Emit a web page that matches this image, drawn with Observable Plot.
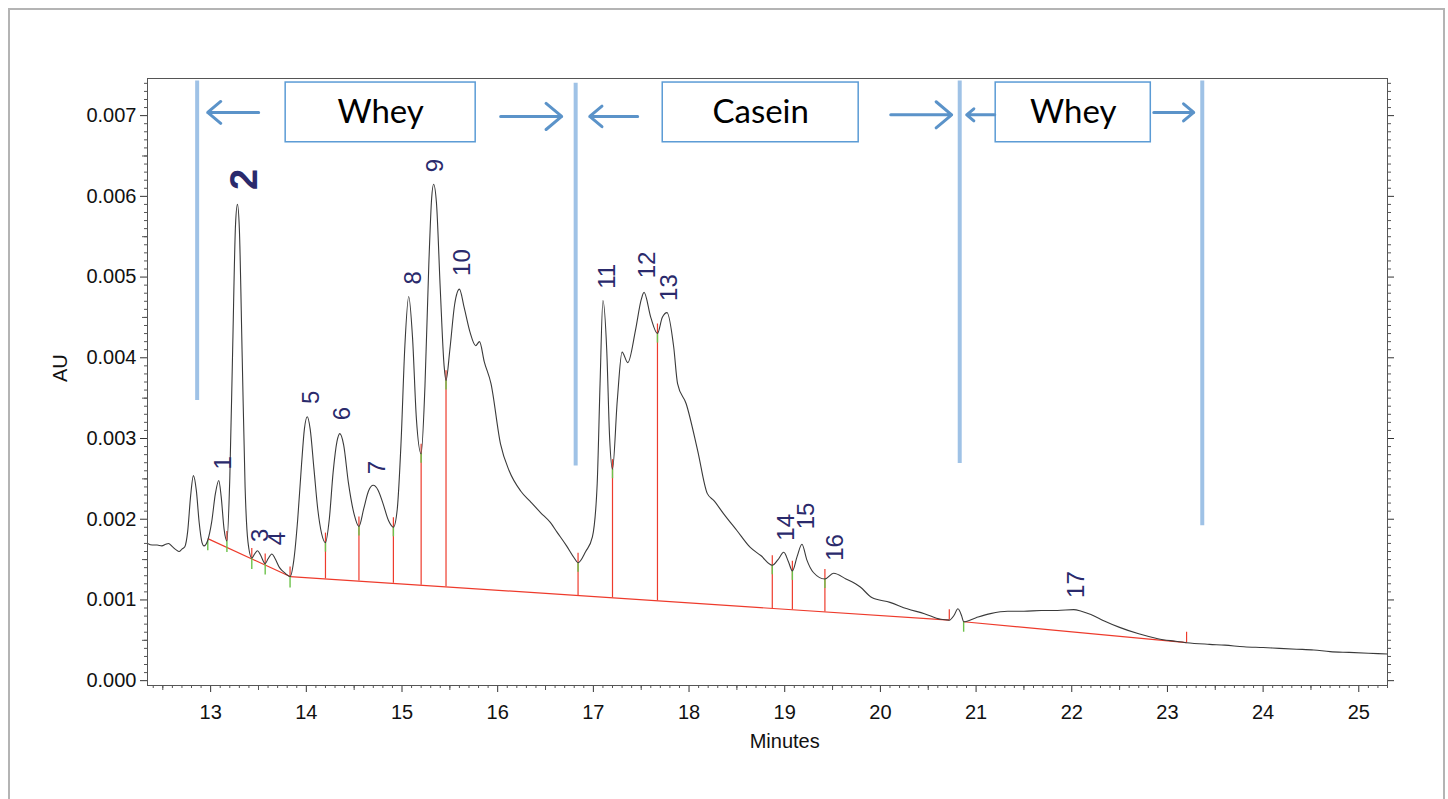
<!DOCTYPE html>
<html><head><meta charset="utf-8">
<script src="https://cdn.jsdelivr.net/npm/d3@7"></script>
<script src="https://cdn.jsdelivr.net/npm/@observablehq/plot@0.6"></script>
<style>
html,body{margin:0;padding:0;background:#fff;overflow:hidden}
#wrap{position:relative;width:1448px;height:799px}
#border{position:absolute;left:8px;top:8px;width:1433px;height:900px;border:2px solid #b4b4b4;border-bottom:none;pointer-events:none}
</style></head><body><div id="wrap"><div id="border"></div></div>
<script>
// ---- chromatogram trace (minutes, AU) ----
const traceTime = [12.34,12.39,12.44,12.49,12.53,12.56,12.60,12.64,12.67,12.70,12.73,12.76,12.79,12.82,12.85,12.88,12.91,12.93,12.97,13.01,13.05,13.085,13.11,13.14,13.17,13.20,13.23,13.26,13.28,13.30,13.33,13.36,13.39,13.43,13.46,13.49,13.52,13.57,13.60,13.64,13.67,13.72,13.78,13.83,13.87,13.91,13.95,13.98,14.01,14.04,14.08,14.12,14.16,14.20,14.24,14.28,14.32,14.35,14.39,14.44,14.50,14.55,14.60,14.65,14.70,14.75,14.80,14.86,14.91,14.95,14.99,15.03,15.07,15.11,15.15,15.20,15.24,15.28,15.31,15.33,15.36,15.40,15.44,15.46,15.50,15.55,15.60,15.65,15.71,15.77,15.81,15.86,15.93,16.03,16.12,16.24,16.34,16.45,16.55,16.62,16.72,16.80,16.84,16.92,16.99,17.04,17.07,17.10,17.14,17.17,17.20,17.25,17.30,17.36,17.44,17.50,17.53,17.60,17.67,17.72,17.77,17.84,17.88,17.97,18.09,18.19,18.26,18.36,18.50,18.64,18.75,18.87,18.93,18.99,19.04,19.08,19.13,19.18,19.23,19.30,19.42,19.51,19.64,19.79,19.91,20.10,20.28,20.46,20.63,20.72,20.77,20.81,20.85,20.87,21.00,21.15,21.33,21.50,21.68,21.85,22.02,22.10,22.20,22.34,22.50,22.70,22.90,23.07,23.20,23.44,23.60,23.80,24.00,24.17,24.35,24.53,24.70,24.90,25.10,25.30];
const traceAU = [0.00170,0.00168,0.00168,0.00167,0.00169,0.00170,0.00166,0.00162,0.00160,0.00163,0.00166,0.00185,0.00228,0.00254,0.00236,0.00196,0.00171,0.00167,0.00174,0.00196,0.00232,0.00248,0.00228,0.00188,0.00173,0.00250,0.00410,0.00565,0.00590,0.00560,0.00400,0.00240,0.00172,0.00152,0.00157,0.00161,0.00156,0.00145,0.00151,0.00157,0.00152,0.00140,0.00133,0.00129,0.00150,0.00200,0.00268,0.00312,0.00327,0.00312,0.00262,0.00212,0.00182,0.00171,0.00200,0.00258,0.00296,0.00306,0.00292,0.00245,0.00206,0.00191,0.00213,0.00235,0.00242,0.00236,0.00220,0.00198,0.00190,0.00212,0.00295,0.00415,0.00476,0.00425,0.00325,0.00281,0.00365,0.00515,0.00598,0.00615,0.00592,0.00485,0.00390,0.00372,0.00410,0.00466,0.00485,0.00462,0.00432,0.00415,0.00420,0.00395,0.00368,0.00293,0.00260,0.00235,0.00222,0.00208,0.00196,0.00184,0.00167,0.00152,0.00146,0.00160,0.00178,0.00244,0.00368,0.00471,0.00409,0.00301,0.00262,0.00347,0.00407,0.00394,0.00434,0.00472,0.00481,0.00450,0.00430,0.00450,0.00456,0.00413,0.00368,0.00343,0.00285,0.00232,0.00223,0.00207,0.00186,0.00165,0.00155,0.00143,0.00150,0.00159,0.00147,0.00136,0.00154,0.00169,0.00150,0.00134,0.00126,0.00133,0.00126,0.00116,0.00103,0.00097,0.00089,0.00083,0.00076,0.00075,0.00081,0.00089,0.00080,0.00073,0.00078,0.00083,0.00086,0.00086,0.00087,0.00087,0.00088,0.00086,0.00082,0.00074,0.00066,0.00058,0.00052,0.00049,0.00047,0.00045,0.00044,0.00042,0.00041,0.00040,0.00039,0.00038,0.00036,0.00035,0.00034,0.00033];

// ---- integration baseline segments ----
const baseStartTime = [12.97, 13.83, 20.87];
const baseStartAU   = [0.00176, 0.00129, 0.00073];
const baseEndTime   = [13.83, 20.72, 23.20];
const baseEndAU     = [0.00129, 0.00075, 0.00047];

// ---- peak boundary events ----
const eventTime = [12.97,13.17,13.43,13.57,13.83,14.20,14.55,14.91,15.20,15.46,16.84,17.20,17.67,18.87,19.08,19.42,20.72,20.87,23.20];
const eventAU   = [0.00174,0.00173,0.00152,0.00145,0.00129,0.00171,0.00191,0.00190,0.00281,0.00372,0.00146,0.00262,0.00430,0.00143,0.00136,0.00126,0.00075,0.00073,0.00047];
const eventKind = ["start","split","split","split","split","drop","drop","drop","drop","drop","drop","drop","drop","drop","drop","drop","end","start","end"];

// ---- peak labels ----
const peakLabel = ["1","2","3","4","5","6","7","8","9","10","11","12","13","14","15","16","17"];
const peakLabelTime = [13.136,13.355,13.523,13.700,14.056,14.380,14.746,15.122,15.352,15.634,17.150,17.568,17.798,19.021,19.230,19.533,22.052];
const peakLabelAU   = [0.00270,0.00621,0.00180,0.00176,0.00351,0.00331,0.00264,0.00499,0.00638,0.00518,0.00501,0.00515,0.00487,0.00190,0.00204,0.00165,0.00119];

// ---- fraction annotations ----
const regionLabel = ["Whey","Casein","Whey"];
const regionBoxStart = [13.784, 17.725, 21.205];
const regionBoxEnd   = [15.770, 19.773, 22.826];
const regionBoxTop = 0.00741, regionBoxBottom = 0.00667;
const dividerTime  = [12.859, 16.815, 20.829, 23.364];
const dividerTop   = [0.00743, 0.00740, 0.00743, 0.00743];
const dividerBottom= [0.00347, 0.00266, 0.00269, 0.00192];
const arrowTailTime = [13.502, 16.031, 17.463, 20.108, 21.195, 22.857];
const arrowHeadTime = [12.969, 16.669, 16.962, 20.745, 20.902, 23.275];
const arrowAU       = [0.00704, 0.00699, 0.00699, 0.00701, 0.00701, 0.00704];

// ---- axes ----
const xTickLabels = [13,14,15,16,17,18,19,20,21,22,23,24,25];
const yTickLabels = [0,0.001,0.002,0.003,0.004,0.005,0.006,0.007];
const xDomain = [12.34, 25.30];
const yDomain = [-0.00006, 0.00746];

const trace = traceTime.map((t,i)=>({t, v: traceAU[i]}));
const segs = baseStartTime.map((t,i)=>({t1:t, v1:baseStartAU[i], t2:baseEndTime[i], v2:baseEndAU[i]}));
function baseAt(t){
  for (const s of segs) if (t >= s.t1 - 1e-9 && t <= s.t2 + 1e-9) return s.v1 + (t - s.t1)/(s.t2 - s.t1)*(s.v2 - s.v1);
  return null;
}
const events = eventTime.map((t,i)=>({t, v:eventAU[i], kind:eventKind[i]}));
const dTick = 0.000118;
const redRules = [], greenRules = [];
for (const e of events) {
  if (e.kind === "drop") { redRules.push({t:e.t, a:baseAt(e.t), b:e.v + dTick}); greenRules.push({t:e.t, a:e.v, b:e.v - dTick}); }
  if (e.kind === "split") { redRules.push({t:e.t, a:e.v, b:e.v + dTick}); greenRules.push({t:e.t, a:e.v, b:e.v - dTick*1.2}); }
  if (e.kind === "start") { greenRules.push({t:e.t, a:e.v, b:e.v - dTick*1.1}); }
  if (e.kind === "end") { redRules.push({t:e.t, a:e.v, b:e.v + dTick*1.1}); }
}
const labels = peakLabel.map((s,i)=>({s, t:peakLabelTime[i], v:peakLabelAU[i]}));
const boxes = regionLabel.map((s,i)=>({s, t1:regionBoxStart[i], t2:regionBoxEnd[i]}));
const dividers = dividerTime.map((t,i)=>({t, a:dividerTop[i], b:dividerBottom[i]}));
const arrows = arrowTailTime.map((t,i)=>({t1:t, t2:arrowHeadTime[i], v:arrowAU[i]}));

const xMinor = d3.range(124, 254).map(d=>d/10).filter(d=>Math.abs(d - Math.round(d)) > 1e-6);
const xMid = xMinor.filter(d=>Math.abs((d*10)%10 - 5) < 1e-6);
const yMinor = d3.range(0, 75).map(d=>d/10000).filter(d=>(Math.round(d*10000)%10)!==0);
const yMid = yMinor.filter(d=>(Math.round(d*10000)%10)===5);

const red = "#ee3b2c", green = "#6cc24a", navy = "#2a2a6c";
const axisFont = "'Liberation Sans', Arial, sans-serif";

const chart = Plot.plot({
  width: 1448, height: 799,
  marginLeft: 147, marginRight: 61, marginTop: 78, marginBottom: 114,
  x: {domain: xDomain},
  y: {domain: yDomain},
  style: {fontFamily: axisFont, background: "transparent", color: "#111"},
  marks: [
    // axes ticks
    Plot.axisY({ticks: yTickLabels, tickSize: 7, tickPadding: 4, tickFormat: d3.format(".3f"), fontSize: 20, label: null, stroke: "#333"}),
    Plot.axisY({ticks: yMinor, tickSize: 3, tickFormat: () => "", label: null, stroke: "#555"}),
    Plot.axisY({ticks: yMid, tickSize: 5, tickFormat: () => "", label: null, stroke: "#555"}),
    Plot.axisY({anchor: "right", ticks: yTickLabels, tickSize: 6, tickFormat: () => "", label: null, stroke: "#333"}),
    Plot.axisY({anchor: "right", ticks: yMinor, tickSize: 3, tickFormat: () => "", label: null, stroke: "#555"}),
    Plot.axisX({ticks: xTickLabels, tickSize: 7, tickPadding: 12, fontSize: 20, tickFormat: d3.format("d"), label: null, stroke: "#333"}),
    Plot.axisX({ticks: xMinor, tickSize: 3, tickFormat: () => "", label: null, stroke: "#555"}),
    Plot.axisX({ticks: xMid, tickSize: 5, tickFormat: () => "", label: null, stroke: "#555"}),
    Plot.text(["AU"], {frameAnchor: "left", dx: -87, rotate: -90, fontSize: 20, fill: "#111"}),
    Plot.text(["Minutes"], {x: () => 19.0, frameAnchor: "bottom", dy: 62, fontSize: 20, fill: "#111"}),
    // region dividers
    Plot.ruleX(dividers, {x: "t", y1: "a", y2: "b", stroke: "#9fc2e6", strokeWidth: 4}),
    // baseline
    Plot.link(segs, {x1: "t1", y1: "v1", x2: "t2", y2: "v2", stroke: red, strokeWidth: 1.2}),
    Plot.ruleX(redRules, {x: "t", y1: "a", y2: "b", stroke: red, strokeWidth: 1.2}),
    Plot.ruleX(greenRules, {x: "t", y1: "a", y2: "b", stroke: green, strokeWidth: 1.4}),
    // trace
    Plot.line(trace, {x: "t", y: "v", stroke: "#3a3a3a", strokeWidth: 1.1, curve: "monotone-x"}),
    // peak labels
    Plot.text(labels.filter(d => d.s !== "2"), {x: "t", y: "v", text: "s", rotate: -90, fontSize: 24, fill: navy}),
    Plot.text(labels.filter(d => d.s === "2"), {x: "t", y: "v", text: "s", rotate: -90, fontSize: 38, fontWeight: "bold", fill: navy}),
    // region boxes and arrows
    Plot.rect(boxes, {x1: "t1", x2: "t2", y1: () => regionBoxBottom, y2: () => regionBoxTop, fill: "white", stroke: "#5b9bd5", strokeWidth: 1.5}),
    Plot.text(boxes, {x: d => (d.t1 + d.t2)/2, y: () => (regionBoxTop + regionBoxBottom)/2, text: "s", fontSize: 33, fontFamily: "Lato, 'Open Sans', sans-serif", fill: "#000"}),
    Plot.arrow(arrows, {x1: "t1", y1: "v", x2: "t2", y2: "v", stroke: "#5b93c9", strokeWidth: 3, headLength: 14, headAngle: 80, bend: 0}),
    Plot.frame({stroke: "#555", strokeWidth: 1})
  ]
});
document.getElementById("wrap").appendChild(chart);
</script></body></html>
